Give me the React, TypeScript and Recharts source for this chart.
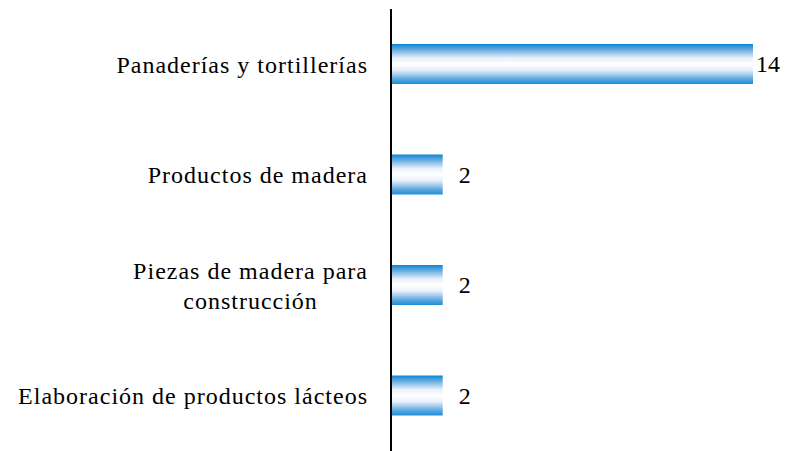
import React from 'react';
import { BarChart, Bar, XAxis, YAxis, LabelList } from 'recharts';

const categories = [
  'Panaderías y tortillerías',
  'Productos de madera',
  'Piezas de madera para construcción',
  'Elaboración de productos lácteos',
];
const values = [14, 2, 2, 2];
const tickLines: Record<string, string[]> = {
  'Piezas de madera para construcción': ['Piezas de madera para', 'construcción'],
};

const data = categories.map((c, i) => ({ name: c, value: values[i] }));

const FONT = '"Liberation Serif", "Times New Roman", serif';
const FS = 24;
const LS = 1;

function measure(t: string): number {
  try {
    const ctx = document.createElement('canvas').getContext('2d')!;
    ctx.font = `${FS}px ${FONT}`;
    return ctx.measureText(t).width + t.length * LS;
  } catch {
    return t.length * FS * 0.45;
  }
}

const CatTick = (props: any) => {
  const { x, y, payload } = props;
  const label: string = payload.value;
  const lines = tickLines[label] || [label];
  const maxW = Math.max(...lines.map(measure));
  const cx = x - maxW / 2;
  const lh = 30;
  const startY = y - ((lines.length - 1) * lh) / 2;
  return (
    <g>
      {lines.map((l, i) => (
        <text
          key={i}
          x={cx}
          y={startY + i * lh}
          dy="0.35em"
          textAnchor="middle"
          fontFamily={FONT}
          fontSize={FS}
          letterSpacing={LS}
          fill="#000"
        >
          {l}
        </text>
      ))}
    </g>
  );
};

const ValueLabel = (props: any) => {
  const { x, y, width, height, value } = props;
  const off = value >= 10 ? 3 : 16;
  return (
    <text
      x={x + width + off}
      y={y + height / 2}
      dy="0.35em"
      textAnchor="start"
      fontFamily={FONT}
      fontSize={FS}
      fill="#000"
    >
      {value}
    </text>
  );
};

export default function App() {
  return (
    <div style={{ position: 'absolute', left: 0, top: 0, background: '#fff' }}>
      <BarChart
        width={785}
        height={451}
        data={data}
        layout="vertical"
        margin={{ top: 9, right: 32, bottom: 0, left: 0 }}
        barCategoryGap="18%"
      >
        <defs>
          <linearGradient id="barGrad" x1="0" y1="0" x2="0" y2="1">
            <stop offset="0%" stopColor="#0a86d6" />
            <stop offset="12%" stopColor="#5aa6de" />
            <stop offset="35%" stopColor="#e8f0fa" />
            <stop offset="50%" stopColor="#ffffff" />
            <stop offset="65%" stopColor="#e8f0fa" />
            <stop offset="88%" stopColor="#5aa6de" />
            <stop offset="100%" stopColor="#1a90da" />
          </linearGradient>
        </defs>
        <XAxis type="number" domain={[0, 14]} hide />
        <YAxis
          type="category"
          dataKey="name"
          width={391}
          axisLine={{ stroke: '#000', strokeWidth: 2 }}
          tickLine={false}
          tickSize={0}
          tickMargin={23}
          tick={<CatTick />}
          interval={0}
        />
        <Bar dataKey="value" fill="url(#barGrad)" barSize={40} isAnimationActive={false}>
          <LabelList dataKey="value" content={<ValueLabel />} />
        </Bar>
      </BarChart>
    </div>
  );
}
